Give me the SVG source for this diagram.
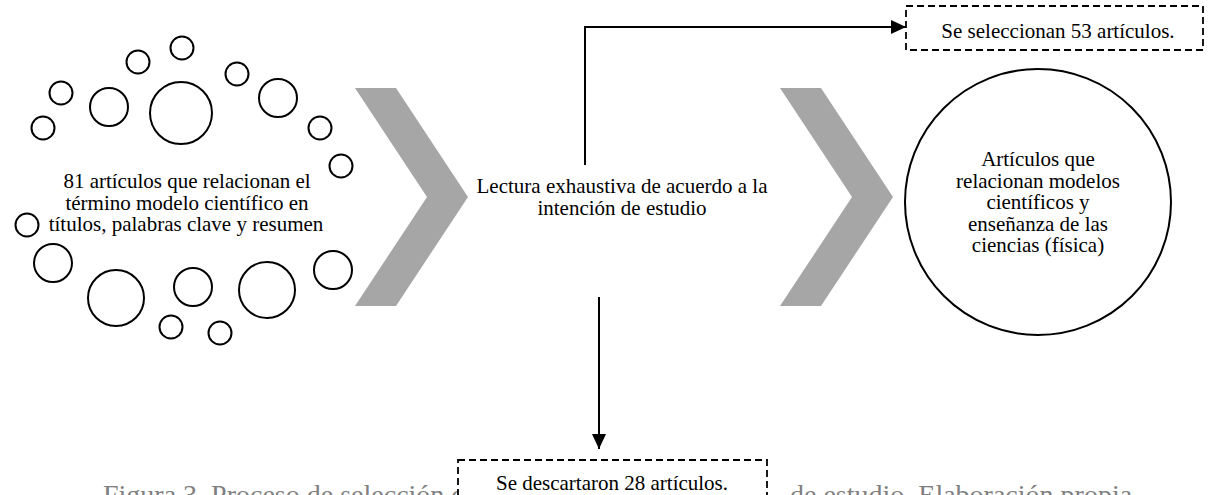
<svg xmlns="http://www.w3.org/2000/svg" width="1209" height="495" viewBox="0 0 1209 495">
<style>
  .t { font-family: "Liberation Serif", "Times New Roman", serif; font-size: 21px; fill: #000; text-anchor: middle; }
  .cap { font-family: "Liberation Serif", "Times New Roman", serif; font-size: 28px; fill: #808080; }
  .c { fill: #fff; stroke: #000; stroke-width: 2; }
  .chev { fill: #a6a6a6; }
  .box { fill: #fff; stroke: #000; stroke-width: 1.8; stroke-dasharray: 7 4; }
  .conn { fill: none; stroke: #000; stroke-width: 2; }
</style>
<defs>
  <marker id="arr" markerUnits="userSpaceOnUse" markerWidth="15" markerHeight="14" refX="15" refY="7" orient="auto">
    <path d="M0,0 L15,7 L0,14 z" fill="#000"/>
  </marker>
</defs>
<rect width="1209" height="495" fill="#fff"/>

<g id="caption">
  <text class="cap" x="103" y="504">Figura 3. Proceso de selección de artículos</text>
  <text class="cap" x="790" y="504">de estudio. Elaboración propia</text>
</g>

<g id="n-cluster">
  <circle class="c" cx="182" cy="48" r="11.5"/>
  <circle class="c" cx="138" cy="62" r="11.5"/>
  <circle class="c" cx="237" cy="74" r="11.5"/>
  <circle class="c" cx="61" cy="93" r="11.5"/>
  <circle class="c" cx="109" cy="107" r="19"/>
  <circle class="c" cx="181" cy="113" r="31"/>
  <circle class="c" cx="278" cy="98" r="19"/>
  <circle class="c" cx="43" cy="128" r="11.5"/>
  <circle class="c" cx="320" cy="128" r="11.5"/>
  <circle class="c" cx="341" cy="166" r="11.5"/>
  <circle class="c" cx="27" cy="225" r="11.5"/>
  <circle class="c" cx="53" cy="263" r="19"/>
  <circle class="c" cx="116" cy="298" r="28"/>
  <circle class="c" cx="193" cy="287" r="19"/>
  <circle class="c" cx="267" cy="290" r="28"/>
  <circle class="c" cx="333" cy="270" r="19"/>
  <circle class="c" cx="171" cy="327" r="11.5"/>
  <circle class="c" cx="220" cy="333" r="11.5"/>
  <text class="t" x="187" y="188">81 artículos que relacionan el</text>
  <text class="t" x="187" y="209.5">término modelo científico en</text>
  <text class="t" x="186" y="231">títulos, palabras clave y resumen</text>
</g>

<g id="n-chevron1">
  <polygon class="chev" points="355,88 396,88 468,197 396,306 355,306 427,197"/>
</g>

<g id="n-process">
  <text class="t" x="622" y="193">Lectura exhaustiva de acuerdo a la</text>
  <text class="t" x="622" y="214.5">intención de estudio</text>
</g>

<g id="n-chevron2">
  <polygon class="chev" points="780,88 821,88 893,197 821,306 780,306 852,197"/>
</g>

<g id="n-result">
  <circle class="c" cx="1038" cy="202" r="133"/>
  <text class="t" x="1038" y="166">Artículos que</text>
  <text class="t" x="1038" y="187.5">relacionan modelos</text>
  <text class="t" x="1038" y="209">científicos y</text>
  <text class="t" x="1038" y="230.5">enseñanza de las</text>
  <text class="t" x="1038" y="252">ciencias (física)</text>
</g>

<g id="n-selected">
  <rect class="box" x="906" y="6" width="297" height="44"/>
  <text class="t" x="1058" y="38">Se seleccionan 53 artículos.</text>
</g>

<g id="n-discarded">
  <rect class="box" x="458" y="460" width="309" height="50"/>
  <text class="t" x="612" y="490">Se descartaron 28 artículos.</text>
</g>

<g id="connectors">
  <path class="conn" d="M585,165 V27 H906" marker-end="url(#arr)"/>
  <path class="conn" d="M599,297 V449" marker-end="url(#arr)"/>
</g>
</svg>
